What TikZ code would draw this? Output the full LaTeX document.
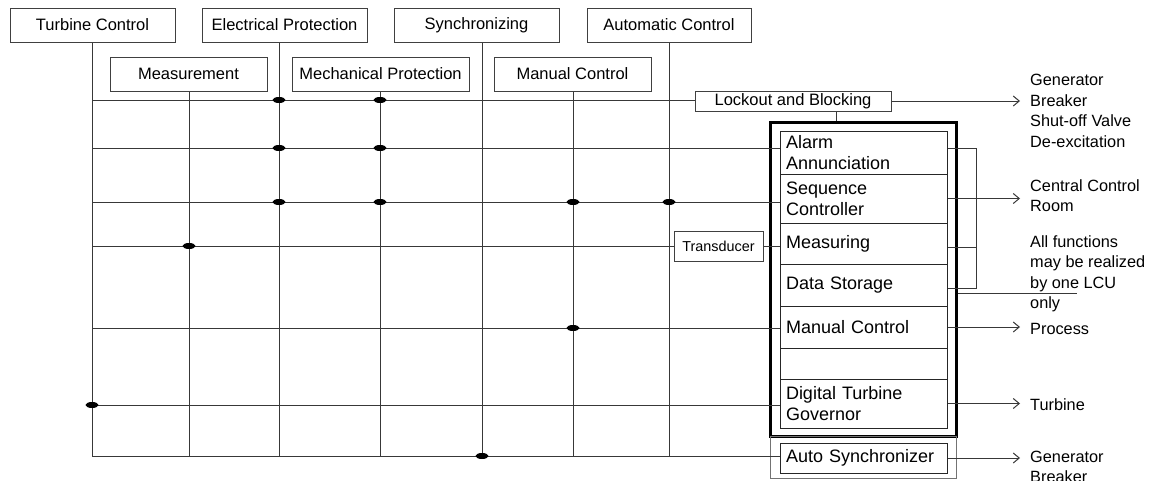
\documentclass[tikz,border=0pt]{standalone}
\usepackage{fontspec}
\setmainfont{Liberation Sans}
\usetikzlibrary{arrows.meta}
\begin{document}
\begin{tikzpicture}[x=1pt,y=-1pt,
  wire/.style={draw=black!78, line width=1pt},
  feed/.style={wire, -{Straight Barb[length=6pt,width=10pt]}, shorten >=10pt},
  topbox/.style={draw=black!75, line width=1pt, minimum height=34pt, inner sep=0pt,
                 font=\fontsize{16.5}{20}\selectfont},
  smallbox/.style={draw=black!75, line width=1pt, inner sep=0pt,
                   font=\fontsize{16.5}{20}\selectfont},
  unit/.style={draw=black!85, line width=1pt, minimum width=167pt, text width=155pt,
               inner xsep=6pt, inner ysep=0pt, align=left,
               font=\fontsize{18}{21}\selectfont},
  lcu/.style={draw=black, line width=3pt, inner sep=0pt},
  outtext/.style={anchor=west, align=left, inner sep=0pt,
                  font=\fontsize{16.3}{20.5}\selectfont},
  tap/.style={fill=black}
]
\useasboundingbox (0,0) rectangle (1152,480);

% function blocks along the top
\node[topbox, minimum width=165pt] (tc) at (92.5,25) {Turbine Control};
\node[topbox, minimum width=165pt] (ep) at (284.5,25) {Electrical Protection};
\node[topbox, minimum width=165pt] (sy) at (476.5,25) {Synchronizing};
\node[topbox, minimum width=164pt] (ac) at (669,25) {Automatic Control};
\node[topbox, minimum width=157pt] (ms) at (188.5,74) {Measurement};
\node[topbox, minimum width=177pt] (mp) at (380.5,74) {Mechanical Protection};
\node[topbox, minimum width=157pt] (mc) at (572.5,74) {Manual Control};

% local control unit
\node[lcu, minimum width=186pt, minimum height=314pt] (lcu) at (863,279) {};
\node[unit, minimum height=43pt] (alarm) at (863.5,152.5) {Alarm\\Annunciation};
\node[unit, minimum height=49pt] (seq) at (863.5,198.5) {Sequence\\Controller};
\node[unit, minimum height=41pt] (meas) at (863.5,243.5) {Measuring};
\node[unit, minimum height=42pt] (data) at (863.5,285) {Data Storage};
\node[unit, minimum height=42pt] (man) at (863.5,327) {Manual Control};
\node[unit, minimum height=31pt] (spare) at (863.5,363.5) {};
\node[unit, minimum height=49pt] (gov) at (863.5,403.5) {Digital Turbine\\Governor};

\node[draw=black!55, line width=0.8pt, minimum width=186pt, minimum height=42pt,
      inner sep=0pt] (syncframe) at (863,457) {};
\node[unit, minimum height=30pt] (asyn) at (863.5,458) {Auto Synchronizer};

\node[smallbox, minimum width=196pt, minimum height=20pt] (lock) at (793,101)
  {Lockout and Blocking};
\node[smallbox, minimum width=89pt, minimum height=30pt,
      font=\fontsize{14.4}{17}\selectfont] (trans) at (718.5,246) {Transducer};

% output labels
\node[outtext] (o1) at (1030,111) {Generator\\Breaker\\Shut-off Valve\\De-excitation};
\node[outtext] (o2) at (1030,195.5) {Central Control\\Room};
\node[outtext] (o3) at (1030,274) {All functions\\may be realized\\by one LCU\\only};
\node[outtext] (o4) at (1030,329) {Process};
\node[outtext] (o5) at (1030,405) {Turbine};
\node[outtext] (o6) at (1030,467) {Generator\\Breaker};

% bus grid
\coordinate (bTC) at (92,456);
\coordinate (bMs) at (189,456);
\coordinate (bEP) at (279,456);
\coordinate (bMP) at (380,456);
\coordinate (bSy) at (482,456);
\coordinate (bMC) at (573,456);
\coordinate (bAC) at (669,456);

\draw[wire] (tc.south -| bTC) -- (bTC);
\draw[wire] (ms.south -| bMs) -- (bMs);
\draw[wire] (ep.south -| bEP) -- (bEP);
\draw[wire] (mp.south -| bMP) -- (bMP);
\draw[wire] (sy.south -| bSy) -- (bSy);
\draw[wire] (mc.south -| bMC) -- (bMC);
\draw[wire] (ac.south -| bAC) -- (bAC);

\coordinate (lA) at (92,100);
\coordinate (lB) at (92,148);
\coordinate (lC) at (92,202);
\coordinate (lD) at (92,246);
\coordinate (lE) at (92,328);
\coordinate (lF) at (92,405);

\draw[wire] (lA) -- (lA -| lock.west);
\draw[wire] (lB) -- (lB -| alarm.west);
\draw[wire] (lC) -- (lC -| seq.west);
\draw[wire] (lD) -- (trans.west);
\draw[wire] (trans.east) -- (trans.east -| meas.west);
\draw[wire] (lE) -- (lE -| man.west);
\draw[wire] (lF) -- (lF -| gov.west);
\draw[wire] (bTC) -- (bTC -| asyn.west);

% junctions
\foreach \p in {(279,100),(380,100),(279,148),(380,148),(279,202),(380,202),
                (573,202),(669,202),(189,246),(573,328),(92,405),(482,456)}
  \fill[tap] \p ellipse [x radius=6.5, y radius=3];

% lockout into the unit
\draw[wire] ([xshift=43pt]lock.south) -- ([xshift=43pt]lock.south |- lcu.north);

% outputs
\draw[feed] (lock.east) -- (lock.east -| o1.west);
\draw[feed] (seq.east) -- (seq.east -| o2.west);
\draw[feed] (man.east) -- (man.east -| o4.west);
\draw[feed] (gov.east) -- (gov.east -| o5.west);
\draw[feed] (asyn.east) -- (asyn.east -| o6.west);

% bracket joining alarm, measuring and data storage
\draw[wire] ([yshift=4.5pt]alarm.east) -| ([xshift=29pt,yshift=-3pt]data.east)
  -- ([yshift=-3pt]data.east);
\draw[wire] ([yshift=-3.5pt]meas.east) -- ++(29,0);
\draw[wire] ([yshift=-14pt]lcu.east) -- ++(119,0);
\end{tikzpicture}
\end{document}
